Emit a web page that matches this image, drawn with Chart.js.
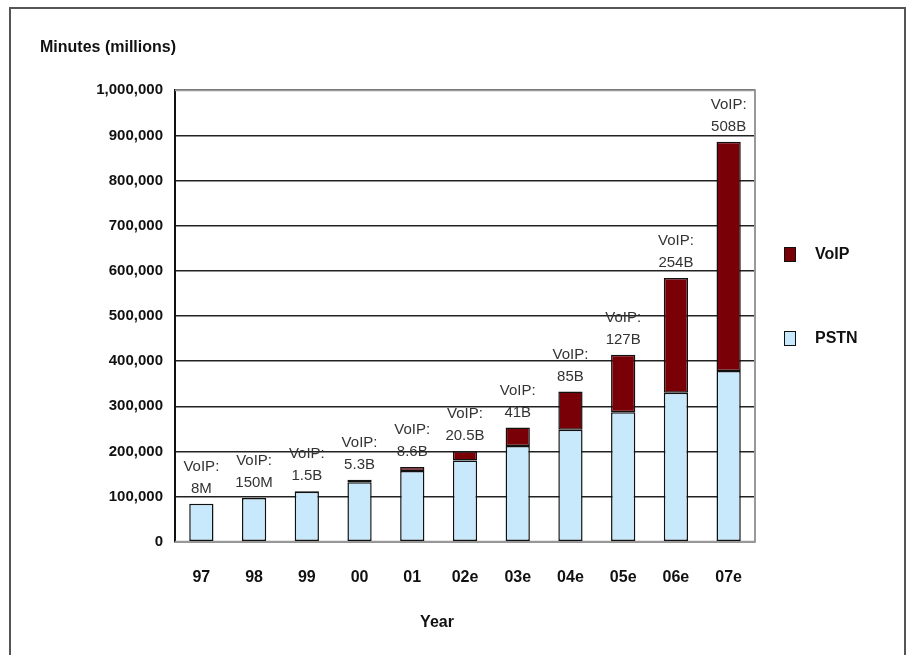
<!DOCTYPE html>
<html>
<head>
<meta charset="utf-8">
<script src="https://cdn.jsdelivr.net/npm/chart.js@4/dist/chart.umd.min.js"></script>
<style>
    html, body { margin: 0; padding: 0; background: #fff; }
    #wrap { position: relative; width: 910px; height: 655px; overflow: hidden; }
    #frame {
        position: absolute; left: 9px; top: 7px; width: 897px; height: 700px;
        border: 2px solid #555; box-sizing: border-box;
    }
    #chart { position: absolute; left: 0; top: 0; }
</style>
</head>
<body>
<div id="wrap">
    <div id="frame"></div>
    <canvas id="chart" width="910" height="655"></canvas>
</div>
<script>
const years = ['97', '98', '99', '00', '01', '02e', '03e', '04e', '05e', '06e', '07e'];
const pstnMinutes = [84000, 97000, 111000, 132000, 157000, 180000, 212000, 248000, 287000, 330000, 378000];
const voipMinutes = [8, 150, 1500, 5300, 8600, 20500, 41000, 85000, 127000, 254000, 508000];
const voipLabels = ['8M', '150M', '1.5B', '5.3B', '8.6B', '20.5B', '41B', '85B', '127B', '254B', '508B'];
const yTicks = [0, 100000, 200000, 300000, 400000, 500000, 600000, 700000, 800000, 900000, 1000000];

const fontFamily = '"Liberation Sans", Arial, sans-serif';

// "VoIP: xx" labels above each stack
const voipLabelPlugin = {
    id: 'voipLabels',
    afterDatasetsDraw(chart) {
        const ctx = chart.ctx;
        const meta = chart.getDatasetMeta(1);
        ctx.save();
        ctx.font = '15px ' + fontFamily;
        ctx.fillStyle = '#333';
        ctx.textAlign = 'center';
        ctx.textBaseline = 'middle';
        meta.data.forEach((bar, i) => {
            ctx.fillText('VoIP:', bar.x, bar.y - 37);
            ctx.fillText(voipLabels[i], bar.x, bar.y - 15);
        });
        ctx.restore();
    }
};

const plotFramePlugin = {
    id: 'plotFrame',
    beforeDatasetsDraw(chart) {
        const { ctx, chartArea } = chart;
        ctx.save();
        ctx.strokeStyle = '#999';
        ctx.lineWidth = 2;
        ctx.beginPath();
        ctx.moveTo(chartArea.left, chartArea.top);
        ctx.lineTo(chartArea.right, chartArea.top);
        ctx.lineTo(chartArea.right, chartArea.bottom);
        ctx.lineTo(chartArea.left, chartArea.bottom);
        ctx.stroke();
        ctx.restore();
    }
};

// legend on the right (VoIP first) and the "Year" caption, which sits left of centre
const sideTextPlugin = {
    id: 'sideText',
    afterDraw(chart) {
        const ctx = chart.ctx;
        const items = [1, 0].map(i => chart.data.datasets[i]);
        const rows = [254, 338];
        ctx.save();
        ctx.font = 'bold 16px ' + fontFamily;
        ctx.textBaseline = 'middle';
        ctx.textAlign = 'left';
        items.forEach((ds, k) => {
            const y = rows[k];
            ctx.fillStyle = ds.backgroundColor;
            ctx.fillRect(784, y - 7, 11, 14);
            ctx.strokeStyle = '#111';
            ctx.lineWidth = 1;
            ctx.strokeRect(784.5, y - 6.5, 11, 14);
            ctx.fillStyle = '#111';
            ctx.fillText(ds.label, 815, y + 1);
        });
        ctx.textAlign = 'center';
        ctx.fillText('Year', 437, 623);
        ctx.restore();
    }
};

const ctx = document.getElementById('chart').getContext('2d');
new Chart(ctx, {
    type: 'bar',
    data: {
        labels: years,
        datasets: [{
            label: 'PSTN',
            data: pstnMinutes,
            backgroundColor: '#c8e9fb',
            borderColor: '#111',
            borderWidth: 1.5,
            borderSkipped: false
        }, {
            label: 'VoIP',
            data: voipMinutes,
            backgroundColor: '#7a0008',
            borderColor: '#111',
            borderWidth: 1.5,
            borderSkipped: false
        }]
    },
    plugins: [plotFramePlugin, voipLabelPlugin, sideTextPlugin],
    options: {
        responsive: false,
        animation: false,
        layout: {
            padding: { left: 40, top: 38, right: 155, bottom: 42 }
        },
        datasets: {
            bar: { categoryPercentage: 1, barPercentage: 0.46 }
        },
        plugins: {
            title: {
                display: true,
                text: 'Minutes (millions)',
                align: 'start',
                color: '#111',
                font: { family: fontFamily, size: 16, weight: 'bold' },
                padding: { top: 0, bottom: 33 }
            },
            legend: { display: false },
            tooltip: { enabled: false }
        },
        scales: {
            x: {
                stacked: true,
                grid: { display: false, drawTicks: false },
                border: { display: false },
                ticks: {
                    color: '#111',
                    padding: 26,
                    font: { family: fontFamily, size: 16, weight: 'bold' }
                }
            },
            y: {
                stacked: true,
                min: 0,
                max: 1000000,
                afterBuildTicks(scale) {
                    scale.ticks = yTicks.map(v => ({ value: v }));
                },
                afterFit(scale) {
                    scale.width = 135;
                },
                grid: { color: '#222', lineWidth: 1.5, drawTicks: false },
                border: { display: true, color: '#111', width: 2 },
                ticks: {
                    color: '#111',
                    padding: 12,
                    font: { family: fontFamily, size: 15, weight: 'bold' },
                    callback: v => v.toLocaleString('en-US')
                }
            }
        }
    }
});
</script>
</body>
</html>
